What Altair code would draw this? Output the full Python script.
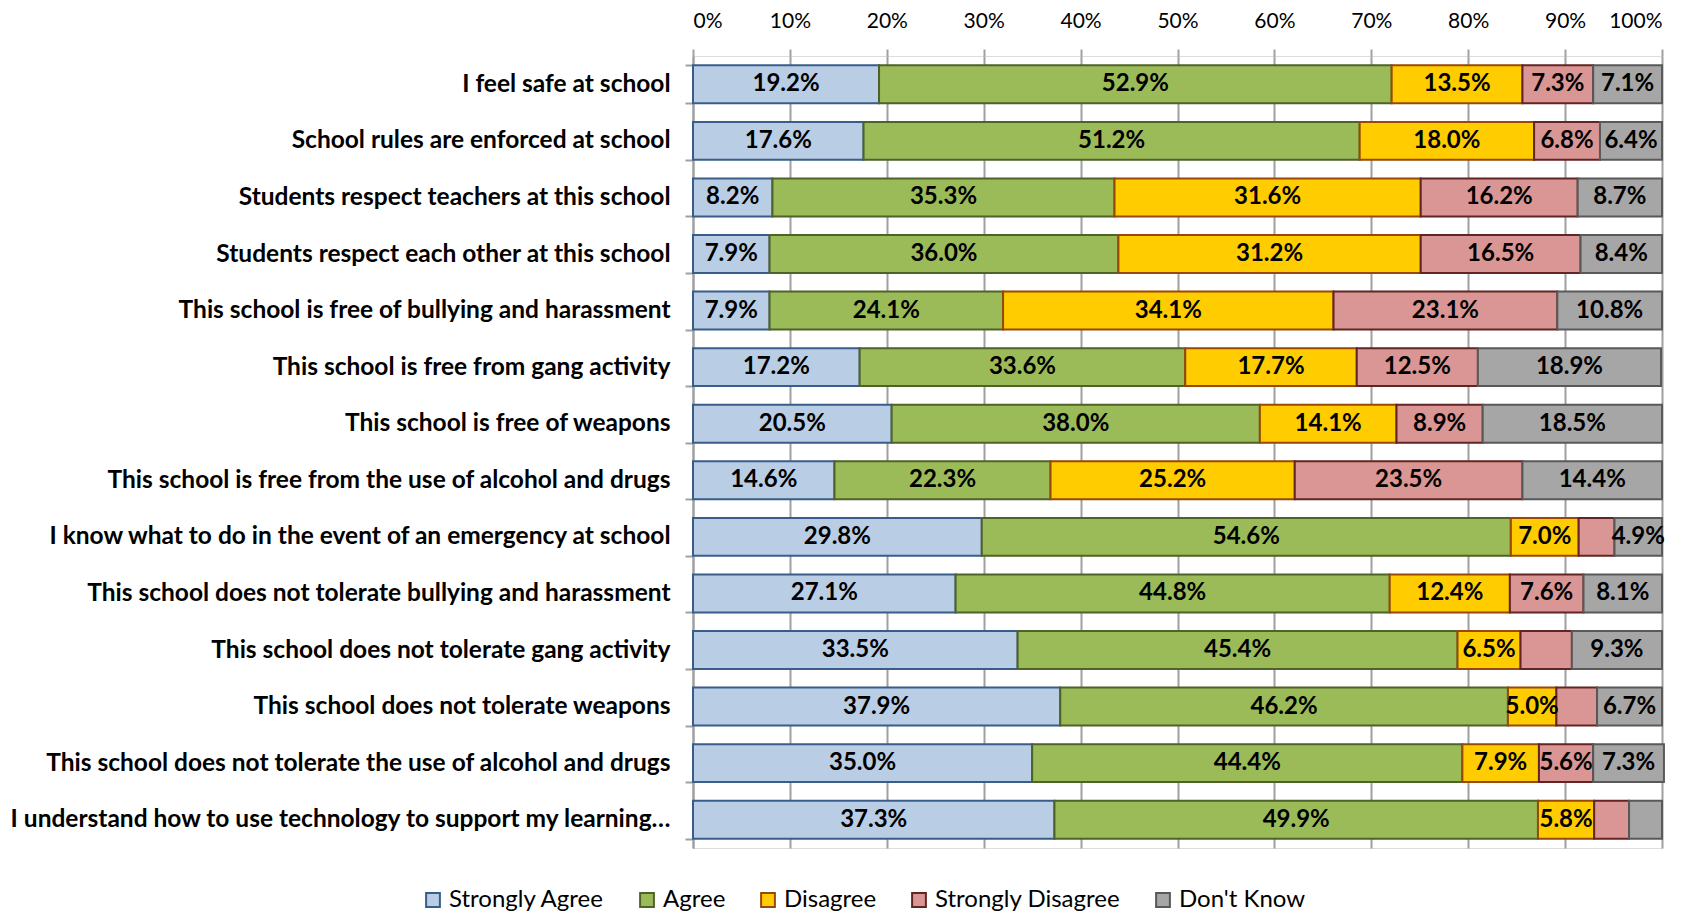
import altair as alt
import pandas as pd

questions = [
    "I feel safe at school",
    "School rules are enforced at school",
    "Students respect teachers at this school",
    "Students respect each other at this school",
    "This school is free of bullying and harassment",
    "This school is free from gang activity",
    "This school is free of weapons",
    "This school is free from the use of alcohol and drugs",
    "I know what to do in the event of an emergency at school",
    "This school does not tolerate bullying and harassment",
    "This school does not tolerate gang activity",
    "This school does not tolerate weapons",
    "This school does not tolerate the use of alcohol and drugs",
    "I understand how to use technology to support my learning…",
]
categories = ["Strongly Agree", "Agree", "Disagree", "Strongly Disagree", "Don't Know"]

strongly_agree = [19.2, 17.6, 8.2, 7.9, 7.9, 17.2, 20.5, 14.6, 29.8, 27.1, 33.5, 37.9, 35.0, 37.3]
agree = [52.9, 51.2, 35.3, 36.0, 24.1, 33.6, 38.0, 22.3, 54.6, 44.8, 45.4, 46.2, 44.4, 49.9]
disagree = [13.5, 18.0, 31.6, 31.2, 34.1, 17.7, 14.1, 25.2, 7.0, 12.4, 6.5, 5.0, 7.9, 5.8]
strongly_disagree = [7.3, 6.8, 16.2, 16.5, 23.1, 12.5, 8.9, 23.5, 3.7, 7.6, 5.3, 4.2, 5.6, 3.6]
dont_know = [7.1, 6.4, 8.7, 8.4, 10.8, 18.9, 18.5, 14.4, 4.9, 8.1, 9.3, 6.7, 7.3, 3.4]

# labels not shown in the original (question index, category)
hidden_labels = [(8, "Strongly Disagree"), (10, "Strongly Disagree"), (11, "Strongly Disagree"),
                 (13, "Strongly Disagree"), (13, "Don't Know")]

fills = ["#B9CDE5", "#9BBB59", "#FFCC00", "#D99694", "#A6A6A6"]
strokes = ["#385D8A", "#4F6228", "#984807", "#632523", "#595959"]

series = [strongly_agree, agree, disagree, strongly_disagree, dont_know]
records = []
for qi, q in enumerate(questions):
    for ci, c in enumerate(categories):
        v = series[ci][qi]
        lab = "" if (qi, c) in hidden_labels else f"{v:.1f}%"
        records.append({"question": q, "category": c, "order": ci, "value": v, "label": lab})
df = pd.DataFrame(records)

FONT = "Lato"

base = alt.Chart(df).transform_stack(
    stack="value", groupby=["question"], as_=["start", "end"],
    sort=[alt.SortField("order", order="ascending")]
)

y = alt.Y("question:N", sort=questions, title=None,
          scale=alt.Scale(paddingInner=0.33, paddingOuter=0.165),
          axis=alt.Axis(labelFont=FONT, labelFontSize=24.5, labelFontWeight="bold",
                        labelColor="#000000", labelPadding=15, labelLimit=900,
                        tickBand="extent", tickSize=8, tickColor="#A0A0A0",
                        domainColor="#A0A0A0", domainWidth=2, tickWidth=2, grid=False))

bars = base.mark_bar(strokeWidth=2).encode(
    y=y,
    x=alt.X("start:Q", scale=alt.Scale(domain=[0, 100], nice=False),
            axis=alt.Axis(orient="top", values=list(range(0, 101, 10)), labelExpr="datum.value + '%'",
                          title=None, labelFont=FONT, labelFontSize=21, labelColor="#000000",
                          labelPadding=18, tickSize=7, tickColor="#A0A0A0", tickWidth=2,
                          domain=False,
                          grid=True, gridColor="#A0A0A0", gridWidth=2)),
    x2="end:Q",
    fill=alt.Fill("category:N", sort=categories,
                  scale=alt.Scale(domain=categories, range=fills),
                  legend=alt.Legend(orient="none", legendX=-272, legendY=832,
                                    direction="horizontal", title=None,
                                    labelFont=FONT, labelFontSize=24, labelColor="#000000",
                                    labelLimit=400,
                                    symbolType="square", symbolSize=190, symbolStrokeWidth=2,
                                    columnPadding=30, labelOffset=4)),
    stroke=alt.Stroke("category:N", sort=categories,
                      scale=alt.Scale(domain=categories, range=strokes), legend=None),
    order=alt.Order("order:Q"),
)

texts = base.transform_calculate(mid="(datum.start + datum.end) / 2").mark_text(
    font=FONT, fontSize=24, fontWeight="bold", color="#000000", baseline="middle", align="center"
).encode(
    y=alt.Y("question:N", sort=questions),
    x=alt.X("mid:Q"),
    text="label:N",
)

chart = alt.layer(bars, texts).properties(
    width=969, height=792, padding={"left": 0, "top": 2, "right": 30, "bottom": 5}
).configure_view(stroke=None).configure(background="#FFFFFF")

chart.save("out.html", embed_options={"renderer": "svg", "actions": False})
